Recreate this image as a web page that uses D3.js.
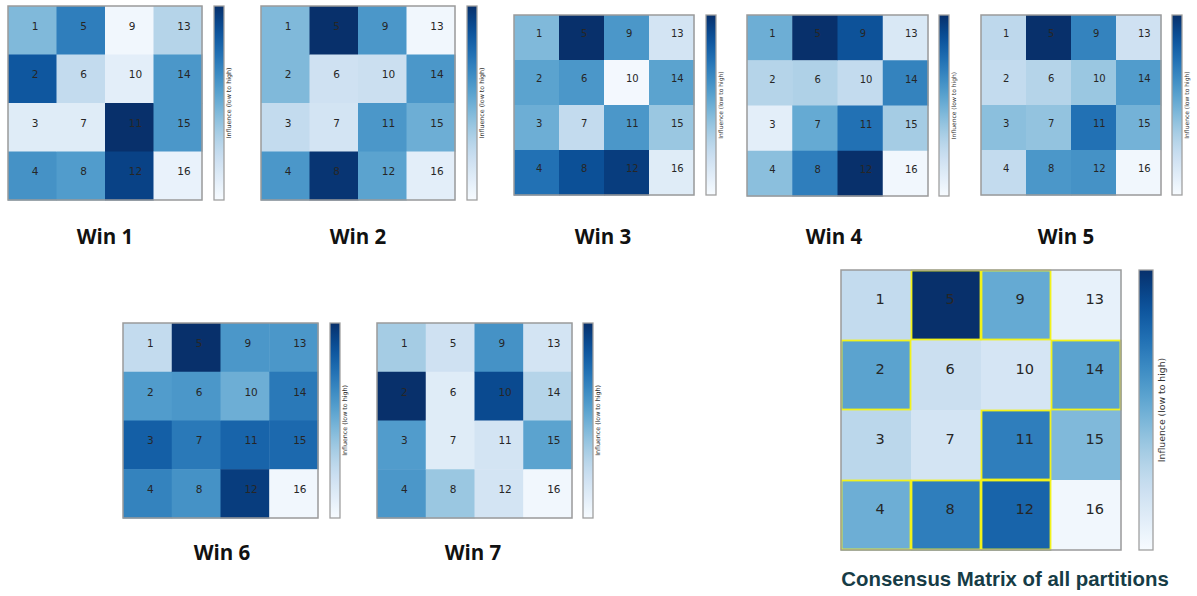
<!DOCTYPE html>
<html><head><meta charset="utf-8">
<script src="https://cdn.jsdelivr.net/npm/d3@7"></script>
<style>html,body{margin:0;padding:0;background:#fff;}svg{display:block;}</style>
</head><body>
<svg id="chart" width="1197" height="596"></svg>
<script>
// ---- data: influence per partition cell (cells numbered 1..16, column-major) ----
const cellLabels = d3.range(1, 17);
const win1 = [0.45,0.85,0.12,0.62, 0.70,0.25,0.12,0.58, 0.03,0.10,1.00,0.93, 0.30,0.60,0.60,0.07];
const win2 = [0.45,0.45,0.25,0.60, 1.00,0.20,0.18,0.98, 0.60,0.22,0.60,0.55, 0.03,0.60,0.50,0.10];
const win3 = [0.45,0.55,0.50,0.75, 1.00,0.60,0.25,0.88, 0.60,0.02,0.60,0.95, 0.18,0.55,0.38,0.12];
const win4 = [0.50,0.30,0.10,0.42, 1.00,0.32,0.52,0.70, 0.87,0.25,0.75,1.00, 0.15,0.68,0.35,0.03];
const win5 = [0.27,0.25,0.42,0.25, 1.00,0.30,0.40,0.60, 0.68,0.38,0.75,0.62, 0.20,0.58,0.48,0.03];
const win6 = [0.25,0.58,0.82,0.68, 1.00,0.60,0.72,0.62, 0.60,0.50,0.80,0.95, 0.60,0.72,0.78,0.03];
const win7 = [0.35,1.00,0.58,0.60, 0.20,0.12,0.12,0.38, 0.62,0.90,0.18,0.18, 0.18,0.30,0.55,0.03];
const consensus = [0.25,0.55,0.28,0.50, 1.00,0.22,0.18,0.70, 0.52,0.17,0.70,0.80, 0.08,0.55,0.45,0.03];
const consensusHighlight = [2,4,5,8,9,11,12,14];
const panelTitles = ["Win 1","Win 2","Win 3","Win 4","Win 5","Win 6","Win 7","Consensus Matrix of all partitions"];
const colorbarLabel = "Influence (low to high)";

// ---- layout (positions only) ----
const layout = [
  {x:8,   y:6,   size:194, cbx:214, cbw:10, tx:105,  ty:244, fs:10.5, cbfs:6.3},
  {x:261, y:6,   size:194, cbx:467, cbw:10, tx:358,  ty:244, fs:10.5, cbfs:6.3},
  {x:514, y:15,  size:180, cbx:706, cbw:10, tx:603,  ty:244, fs:10,   cbfs:6},
  {x:747, y:15,  size:181, cbx:939, cbw:10, tx:834,  ty:244, fs:10,   cbfs:6},
  {x:981, y:15,  size:180, cbx:1172,cbw:10, tx:1066, ty:244, fs:10,   cbfs:6},
  {x:123, y:323, size:195, cbx:330, cbw:10, tx:222,  ty:560, fs:10.5, cbfs:6.3},
  {x:377, y:323, size:195, cbx:583, cbw:10, tx:473,  ty:560, fs:10.5, cbfs:6.3},
  {x:841, y:270, size:280, cbx:1139,cbw:14, tx:1005, ty:586, fs:14.5, cbfs:9.3}
];
const series = [win1, win2, win3, win4, win5, win6, win7, consensus];

const svg = d3.select("#chart");
const color = d3.scaleSequential(d3.interpolateBlues).domain([0, 1]);
const defs = svg.append("defs");
const grad = defs.append("linearGradient").attr("id","blues").attr("x1",0).attr("y1",1).attr("x2",0).attr("y2",0);
d3.range(0, 1.0001, 0.05).forEach(t => grad.append("stop").attr("offset", t).attr("stop-color", color(t)));

series.forEach((vals, i) => {
  const L = layout[i];
  const isCons = i === 7;
  const band = d3.scaleBand().domain(d3.range(4)).range([0, L.size]);
  const g = svg.append("g").attr("transform", `translate(${L.x},${L.y})`);
  const cells = cellLabels.map((lab, k) => ({lab, v: vals[k], col: Math.floor(k / 4), row: k % 4}));

  g.selectAll("rect.cell").data(cells).enter().append("rect")
    .attr("x", d => band(d.col)).attr("y", d => band(d.row))
    .attr("width", band.bandwidth() + 0.5).attr("height", band.bandwidth() + 0.5)
    .attr("fill", d => color(d.v));

  g.selectAll("text.num").data(cells).enter().append("text")
    .attr("x", d => band(d.col) + band.bandwidth() / 2 - 0.5)
    .attr("y", d => band(d.row) + band.bandwidth() * 0.43)
    .attr("dominant-baseline", "middle")
    .attr("font-family", "DejaVu Sans, sans-serif")
    .attr("font-size", L.fs).attr("fill", "#262626")
    .text(d => d.lab);

  if (isCons) {
    g.selectAll("rect.hl").data(cells.filter(d => consensusHighlight.includes(d.lab))).enter().append("rect")
      .attr("x", d => band(d.col) + 0.5).attr("y", d => band(d.row) + 0.5)
      .attr("width", band.bandwidth() - 1).attr("height", band.bandwidth() - 1)
      .attr("fill", "none").attr("stroke", "#f2f21a").attr("stroke-width", 1.8);
  }

  g.append("rect").attr("x", 0).attr("y", 0).attr("width", L.size).attr("height", L.size)
    .attr("fill", "none").attr("stroke", "#9a9a9a").attr("stroke-width", 1.5);

  // colorbar
  svg.append("rect").attr("x", L.cbx).attr("y", L.y).attr("width", L.cbw).attr("height", L.size)
    .attr("fill", "url(#blues)").attr("stroke", "#a0a0a0").attr("stroke-width", 1.3);
  const lx = L.cbx + L.cbw + (isCons ? 9 : 5);
  const ly = L.y + L.size / 2;
  svg.append("text").attr("transform", `translate(${lx},${ly}) rotate(-90)`)
    .attr("text-anchor", "middle").attr("dominant-baseline", "middle")
    .attr("font-family", "DejaVu Sans, sans-serif").attr("font-size", L.cbfs).attr("fill", "#333")
    .text(colorbarLabel);

  // title
  svg.append("text").attr("x", L.tx).attr("y", L.ty).attr("text-anchor", "middle")
    .attr("font-family", isCons ? "Liberation Sans, Arial, sans-serif" : "Open Sans, sans-serif")
    .attr("font-weight", "bold").attr("font-size", isCons ? 20.4 : 20.5)
    .attr("fill", isCons ? "#163c46" : "#111")
    .text(panelTitles[i]);
});
</script>
</body></html>
